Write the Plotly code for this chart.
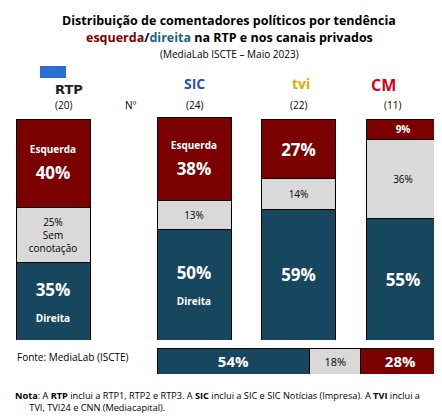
import plotly.graph_objects as go

canais = ["RTP", "SIC", "TVI", "CM"]
n_comentadores = ["(20)", "(24)", "(22)", "(11)"]
direita = [35, 50, 59, 55]
sem_conotacao = [25, 13, 14, 36]
esquerda = [40, 38, 27, 9]
total_labels = ["Direita", "Sem conotação", "Esquerda"]
total_valores = [54, 18, 28]

AZUL = "#17475f"
CINZA = "#d9d9d9"
VERM = "#7b0000"
FONT = "Open Sans"
OFF = 8  # deslocamento da página no browser


def py(p):
    return 1 - (p - OFF) / 420


x_pos = [45, 186, 290.5, 395]
W = 74


def big(v):
    return f"<b><span style='font-size:17px'>{v}%</span></b>"


dir_txt = [big(v) for v in direita]
dir_txt[0] = big(35) + "<br><br><b>Direita</b>"
dir_txt[1] = big(50) + "<br><br><b>Direita</b>"
sem_txt = [f"{v}%" for v in sem_conotacao]
sem_txt[0] = "25%<br>Sem<br>conotação"
esq_txt = [big(v) for v in esquerda]
esq_txt[0] = "<b>Esquerda</b><br><br>" + big(40)
esq_txt[1] = "<b>Esquerda</b><br><br>" + big(38)
esq_txt[3] = "<b>9%</b>"

fig = go.Figure()
for vals, cor, txt, tc in [(direita, AZUL, dir_txt, "white"),
                           (sem_conotacao, CINZA, sem_txt, "black"),
                           (esquerda, VERM, esq_txt, "white")]:
    fig.add_trace(go.Bar(x=x_pos, y=vals, width=W, marker=dict(color=cor, line=dict(color="black", width=1)),
                         text=txt, textposition="inside", insidetextanchor="middle", constraintext="none",
                         textfont=dict(color=tc, size=10, family=FONT), textangle=0, showlegend=False))

cores_total = [AZUL, CINZA, VERM]
txt_total = ["<b>54%</b>", "18%", "<b>28%</b>"]
tc_total = ["white", "black", "white"]
for i in range(3):
    fig.add_trace(go.Bar(x=[total_valores[i]], y=[0], orientation="h", xaxis="x2", yaxis="y2",
                         marker=dict(color=cores_total[i], line=dict(color="black", width=1)),
                         text=[txt_total[i]], textposition="inside", insidetextanchor="middle",
                         constraintext="none",
                         textfont=dict(color=tc_total[i], size=15 if i != 1 else 11, family=FONT),
                         textangle=0, showlegend=False, width=1))

fig.update_layout(
    barmode="stack", width=442, height=420, margin=dict(l=0, r=0, t=0, b=0),
    plot_bgcolor="white", paper_bgcolor="white", font=dict(family=FONT, size=10, color="black"),
    xaxis=dict(range=[0, 442], domain=[0, 1], visible=False),
    yaxis=dict(range=[0, 101], domain=[py(340), py(117)], visible=False),
    xaxis2=dict(range=[0, 100], domain=[149 / 442, 432 / 442], visible=False, anchor="y2"),
    yaxis2=dict(range=[-0.5, 0.5], domain=[py(374), py(348)], visible=False, anchor="x2"),
)

ann = [
    dict(y=10, text="<b>Distribuição de comentadores políticos por tendência</b>", size=12.5),
    dict(y=27, text=f"<b><span style='color:{VERM}'>esquerda</span>/<span style='color:#1f5f8b'>direita</span> na RTP e nos canais privados</b>", size=12.5),
    dict(y=45, text="(MediaLab ISCTE – Maio 2023)", size=10),
]
for a in ann:
    fig.add_annotation(x=0.5, y=py(a["y"]), xref="paper", yref="paper", text=a["text"],
                       showarrow=False, font=dict(size=a["size"]))

for xp, n in zip(x_pos, n_comentadores):
    fig.add_annotation(x=xp / 442, y=py(96), xref="paper", yref="paper", text=n,
                       showarrow=False, font=dict(size=10))
fig.add_annotation(x=115 / 442, y=py(96), xref="paper", yref="paper", text="Nº",
                   showarrow=False, font=dict(size=10))

# logótipos aproximados em texto
logos = [("<b>RTP</b>", "#222222", 13, 45, "DejaVu Sans", 80),
         ("<b>SIC</b>", "#2b4fa8", 14, 186, FONT, 72),
         ("<b>tvi</b>", "#e6a800", 14, 293, FONT, 72),
         ("<b>CM</b>", "#d0021b", 16, 390, FONT, 72)]
for t, c, s, xp, f, yp in logos:
    fig.add_annotation(x=xp / 442, y=py(yp), xref="paper", yref="paper", text=t,
                       showarrow=False, font=dict(size=s, color=c, family=f))
fig.add_shape(type="rect", xref="paper", yref="paper", x0=32 / 442, x1=58 / 442,
              y0=py(78), y1=py(66), fillcolor="#2a6fd6", line_width=0)

fig.add_annotation(x=7 / 442, y=py(366), xref="paper", yref="paper", xanchor="left",
                   text="Fonte: MediaLab (ISCTE)", showarrow=False, font=dict(size=10))
fig.add_annotation(x=5 / 442, y=py(416), xref="paper", yref="paper", xanchor="left", align="left",
                   text="<b>Nota</b>: A <b>RTP</b> inclui a RTP1, RTP2 e RTP3. A <b>SIC</b> inclui a SIC e SIC Notícias (Impresa). A <b>TVI</b> inclui a<br>      TVI, TVI24 e CNN (Mediacapital).",
                   showarrow=False, font=dict(size=9.2))

fig.write_html("out.html")
